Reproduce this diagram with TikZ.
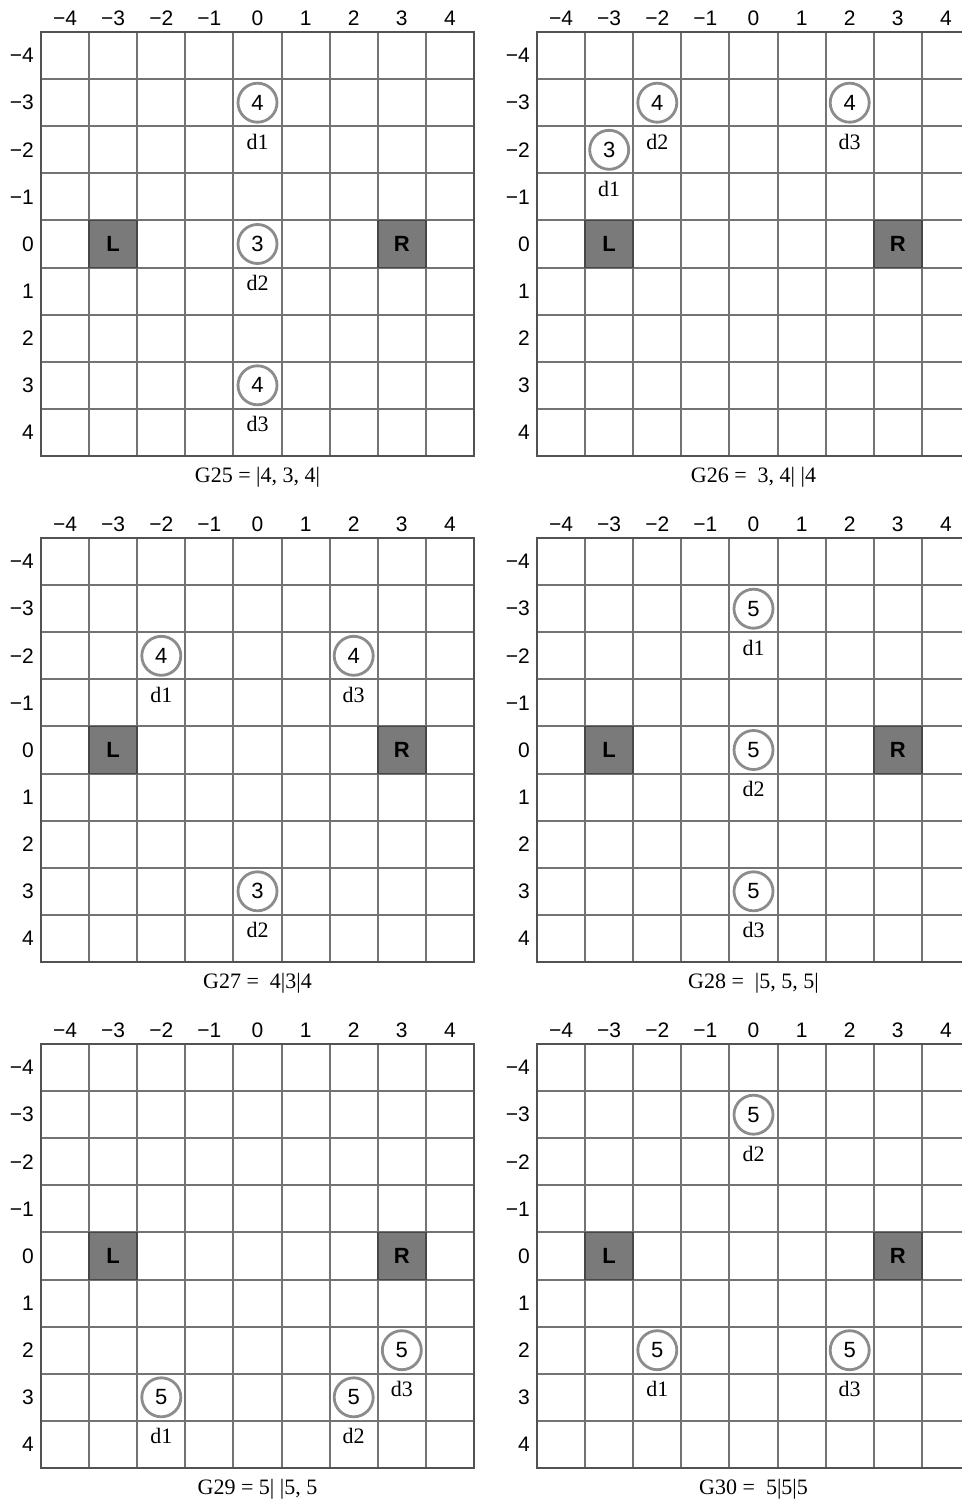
\documentclass[tikz,border=0pt]{standalone}
\usepackage{fontspec}
\setmainfont{Liberation Serif}
\setsansfont{Liberation Sans}
\usetikzlibrary{positioning}

\begin{document}
\begin{tikzpicture}[x=0.5pt,y=-0.5pt,
  gline/.style={draw=black!55,line width=1pt},
  gframe/.style={draw=black!68,line width=1.4pt},
  axlab/.style={font=\sffamily\fontsize{10.5}{11}\selectfont,inner sep=1pt},
  robot/.style={draw=black!72,fill=black!52,line width=0.9pt,
                minimum width=24.05pt,minimum height=23.55pt,inner sep=0pt,
                font=\sffamily\bfseries\fontsize{11}{12}\selectfont},
  disc/.style={circle,draw=black!45,line width=1.4pt,fill=white,
               minimum size=19.5pt,inner sep=0pt,
               font=\sffamily\fontsize{11}{12}\selectfont},
  dlab/.style={fill=white,inner sep=0.5pt,font=\fontsize{11}{12}\selectfont},
  gcap/.style={font=\fontsize{11}{12}\selectfont}]
  \useasboundingbox (0,0) rectangle (962,1499);
  \clip (0,0) rectangle (962,1499);
  % seis tableros
  \foreach \cx/\cy/\gname/\dl [count=\p] in {
      257.5/244/{G25 = |4, 3, 4|}/{0/-3/4/d1, 0/0/3/d2, 0/3/4/d3},
      753.5/244/{G26 =\enspace 3, 4| |4}/{-3/-2/3/d1, -2/-3/4/d2, 2/-3/4/d3},
      257.5/750/{G27 =\enspace 4|3|4}/{-2/-2/4/d1, 0/3/3/d2, 2/-2/4/d3},
      753.5/750/{G28 =\enspace |5, 5, 5|}/{0/-3/5/d1, 0/0/5/d2, 0/3/5/d3},
      257.5/1256/{G29 = 5| |5, 5}/{-2/3/5/d1, 2/3/5/d2, 3/2/5/d3},
      753.5/1256/{G30 =\enspace 5|5|5}/{-2/2/5/d1, 0/-3/5/d2, 2/2/5/d3}}{
    \begin{scope}[shift={(\cx,\cy)},x=24.05pt,y=-23.55pt]
      % rejilla
      \foreach \v in {-3.5,-2.5,...,3.5}{
        \draw[gline] (\v,-4.5) -- (\v,4.5);
        \draw[gline] (-4.5,\v) -- (4.5,\v);
      }
      \draw[gframe] (-4.5,-4.5) rectangle (4.5,4.5);
      % ejes
      \foreach \val/\lab in {-4/−4,-3/−3,-2/−2,-1/−1,0/0,1/1,2/2,3/3,4/4}{
        \node[axlab] (cx\p\val) at (\val,-4.8) {\lab};
        \node[axlab,anchor=east] (cy\p\val) at (-4.6,\val) {\lab};
      }
      % robots
      \node[robot] (L\p) at (-3,0) {L};
      \node[robot] (R\p) at (3,0) {R};
      % discos
      \foreach \ci/\cj/\val/\dn in \dl{
        \node[disc] (\dn-\p) at (\ci,\cj) {\val};
        \node[dlab,below=4.5pt of \dn-\p] (t\dn-\p) {\dn};
      }
      \node[gcap] (g\p) at (0,4.95) {\gname};
    \end{scope}
  }
\end{tikzpicture}
\end{document}
